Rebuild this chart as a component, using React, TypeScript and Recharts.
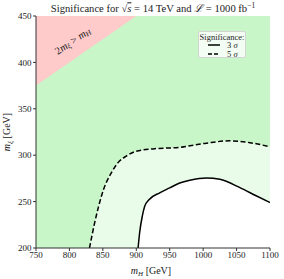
import React from "react";
import {
  Area,
  ComposedChart,
  Label,
  Legend,
  ReferenceDot,
  XAxis,
  YAxis,
} from "recharts";

const FONT = "'Liberation Serif', 'DejaVu Serif', serif";

const mHTicks = [750, 800, 850, 900, 950, 1000, 1050, 1100];
const mXiTicks = [200, 250, 300, 350, 400, 450];

// whole plane (excluded region colour underneath)
const planeMH = [750, 1100];
const planeMXi = [450, 450];

// allowed region: 2 m_xi < m_H
const allowedMH = [750, 900, 1100];
const allowedMXi = [375, 450, 450];

// 5 sigma contour (dashed)
const sig5MH = [830, 837.7, 843.7, 851, 862.7, 872.7, 885, 900, 925, 965, 1005, 1040, 1070, 1100];
const sig5MXi = [200, 227, 245, 263, 281, 292, 299, 304.3, 306.8, 308.5, 313, 315.5, 313.5, 309];

// 3 sigma contour (solid)
const sig3MH = [902.7, 905, 909, 912.6, 919, 935, 950, 965, 980, 1005, 1025, 1055, 1080, 1100];
const sig3MXi = [200, 216.4, 234.4, 245, 252, 259.5, 264.8, 270, 273, 275.5, 274, 265, 256, 249];

const legendItems = [
  { sigma: "3", dash: undefined as string | undefined },
  { sigma: "5", dash: "4 2" },
];

const regionLabelAt = { mH: 806, mXi: 422 };

const zip = (xs: number[], ys: number[]) => xs.map((x, i) => ({ mH: x, m: ys[i] }));

const planeData = zip(planeMH, planeMXi);
const allowedData = zip(allowedMH, allowedMXi);
const sig5Data = zip(sig5MH, sig5MXi);
const sig3Data = zip(sig3MH, sig3MXi);

const TitleText = (props: any) => {
  const vb = props.viewBox;
  const cx = vb.x + vb.width / 2;
  return (
    <text x={cx} y={12.3} textAnchor="middle" fontSize={10.6} fill="#222" fontFamily={FONT}>
      Significance for √
      <tspan fontStyle="italic" textDecoration="overline">s</tspan>
      {" = 14 TeV and "}
      <tspan fontStyle="italic">ℒ</tspan>
      {" = 1000 fb"}
      <tspan dy={-4} fontSize={7.5}>−1</tspan>
    </text>
  );
};

const XTitle = (props: any) => {
  const vb = props.viewBox;
  const cx = vb.x + vb.width / 2;
  return (
    <text x={cx - 2} y={vb.y + 26} textAnchor="middle" fontSize={10} fill="#222" fontFamily={FONT}>
      <tspan fontStyle="italic">m</tspan>
      <tspan fontStyle="italic" fontSize={7} dy={2}>H</tspan>
      <tspan dy={-2}> [GeV]</tspan>
    </text>
  );
};

const YTitle = (props: any) => {
  const vb = props.viewBox;
  const cy = vb.y + vb.height / 2;
  return (
    <text
      transform={`translate(10, ${cy}) rotate(-90)`}
      textAnchor="middle"
      fontSize={10}
      fill="#222"
      fontFamily={FONT}
    >
      <tspan fontStyle="italic">m</tspan>
      <tspan fontStyle="italic" fontSize={7} dy={2}>ξ</tspan>
      <tspan dy={-2}> [GeV]</tspan>
    </text>
  );
};

const RegionLabel = (props: any) => {
  const vb = props.viewBox;
  const x = vb.x + vb.width / 2;
  const y = vb.y + vb.height / 2;
  return (
    <text
      transform={`translate(${x}, ${y}) rotate(-34)`}
      textAnchor="middle"
      dominantBaseline="middle"
      fontSize={10.5}
      fill="#222"
      fontFamily={FONT}
    >
      <tspan>2</tspan>
      <tspan fontStyle="italic">m</tspan>
      <tspan fontStyle="italic" fontSize={7.5} dy={1.5}>ξ</tspan>
      <tspan dy={-1.5}>{" > "}</tspan>
      <tspan fontStyle="italic">m</tspan>
      <tspan fontStyle="italic" fontSize={7.5} dy={1.5}>H</tspan>
    </text>
  );
};

const SigLegend = () => (
  <div
    style={{
      boxSizing: "border-box",
      width: 48,
      height: 27,
      border: "1px solid #d4d4d4",
      borderRadius: 2,
      background: "rgba(255,255,255,0.8)",
      fontFamily: FONT,
      fontSize: 8.5,
      color: "#222",
      lineHeight: "8.5px",
      paddingTop: 0.5,
    }}
  >
    <div style={{ textAlign: "center", whiteSpace: "nowrap" }}>Significance:</div>
    {legendItems.map((it) => (
      <div key={it.sigma} style={{ display: "flex", alignItems: "center", height: 8.5, paddingLeft: 9 }}>
        <svg width={13} height={6} style={{ display: "block" }}>
          <line x1={0} y1={3} x2={12} y2={3} stroke="#000" strokeWidth={1.5} strokeDasharray={it.dash} />
        </svg>
        <span style={{ marginLeft: 6 }}>
          {it.sigma} <i>σ</i>
        </span>
      </div>
    ))}
  </div>
);

export default function App() {
  return (
    <div style={{ position: "fixed", left: 0, top: 0, width: 284, height: 279, background: "#fff" }}>
      <ComposedChart
        width={284}
        height={279}
        margin={{ top: 16, right: 14, bottom: 0, left: 0 }}
        style={{ fontFamily: FONT }}
      >
        <XAxis
          dataKey="mH"
          type="number"
          domain={[750, 1100]}
          ticks={mHTicks}
          interval={0}
          height={31}
          tickSize={3}
          tickMargin={1}
          stroke="#333"
          tick={{ fontSize: 9, fill: "#222", fontFamily: FONT }}
          allowDataOverflow
        >
          <Label content={<XTitle />} />
        </XAxis>
        <XAxis
          xAxisId="top"
          orientation="top"
          dataKey="mH"
          type="number"
          domain={[750, 1100]}
          height={0}
          tick={false}
          tickLine={false}
          stroke="#333"
        />
        <YAxis
          type="number"
          domain={[200, 450]}
          ticks={mXiTicks}
          interval={0}
          width={36}
          tickSize={3}
          tickMargin={1.5}
          stroke="#333"
          tick={{ fontSize: 9, fill: "#222", fontFamily: FONT }}
          allowDataOverflow
        >
          <Label content={<YTitle />} />
        </YAxis>
        <YAxis
          yAxisId="right"
          orientation="right"
          type="number"
          domain={[200, 450]}
          width={0}
          tick={false}
          tickLine={false}
          stroke="#333"
        />
        <Area
          data={planeData}
          dataKey="m"
          type="linear"
          stroke="none"
          fill="#ffcaca"
          fillOpacity={1}
          isAnimationActive={false}
        />
        <Area
          data={allowedData}
          dataKey="m"
          type="linear"
          stroke="none"
          fill="#c8f6c8"
          fillOpacity={1}
          isAnimationActive={false}
        />
        <Area
          data={sig5Data}
          dataKey="m"
          type="monotone"
          stroke="#000"
          strokeWidth={1.5}
          strokeDasharray="5 2.5"
          fill="#e9fce9"
          fillOpacity={1}
          isAnimationActive={false}
        />
        <Area
          data={sig3Data}
          dataKey="m"
          type="monotone"
          stroke="#000"
          strokeWidth={1.5}
          fill="#ffffff"
          fillOpacity={1}
          isAnimationActive={false}
        />
        <ReferenceDot
          x={regionLabelAt.mH}
          y={regionLabelAt.mXi}
          r={0}
          fill="none"
          stroke="none"
          label={<RegionLabel />}
        />
        <ReferenceDot
          x={(mHTicks[0] + mHTicks[mHTicks.length - 1]) / 2}
          y={mXiTicks[mXiTicks.length - 1]}
          r={0}
          fill="none"
          stroke="none"
          ifOverflow="visible"
          label={<TitleText />}
        />
        <Legend
          layout="vertical"
          align="center"
          verticalAlign="middle"
          content={<SigLegend />}
          wrapperStyle={{ left: 198, top: 31, width: 48, height: 27 }}
        />
      </ComposedChart>
    </div>
  );
}
